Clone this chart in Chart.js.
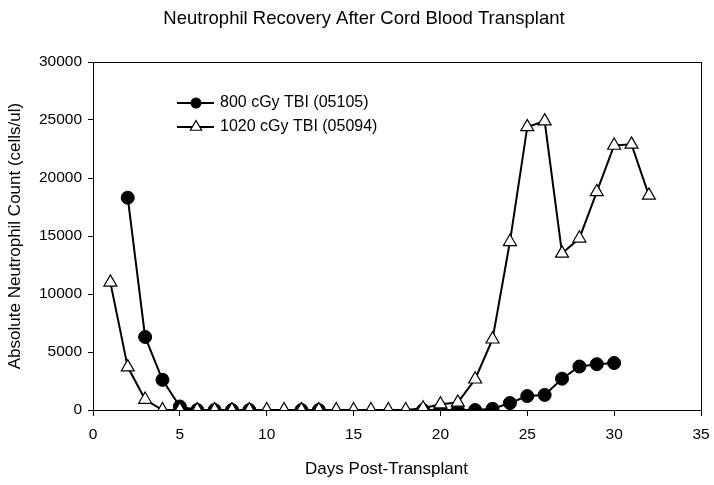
<!DOCTYPE html>
<html>
<head>
<meta charset="utf-8">
<script src="https://cdn.jsdelivr.net/npm/chart.js@4.4.1/dist/chart.umd.min.js"></script>
<style>
html,body{margin:0;padding:0;background:#fff;}
#wrap{width:714px;height:485px;position:relative;}
</style>
</head>
<body>
<div id="wrap"><canvas id="c" width="714" height="485"></canvas></div>
<script>
const chartTitle = "Neutrophil Recovery After Cord Blood Transplant";
const xTitle = "Days Post-Transplant";
const yTitle = "Absolute Neutrophil Count (cells/ul)";
const seriesNames = ["800 cGy TBI (05105)", "1020 cGy TBI (05094)"];

const days800 = [2, 3, 4, 5, 6, 7, 8, 9, 12, 13, 19, 20, 21, 22, 23, 24, 25, 26, 27, 28, 29, 30];
const anc800  = [18300, 6300, 2600, 300, 0, 0, 0, 0, 0, 0, 0, 0, 0, 0, 100, 600, 1200, 1300, 2700, 3750, 3950, 4050];

const days1020 = [1, 2, 3, 4, 5, 6, 7, 8, 9, 10, 11, 12, 13, 14, 15, 16, 17, 18, 19, 20, 21, 22, 23, 24, 25, 26, 27, 28, 29, 30, 31, 32];
const anc1020  = [11000, 3700, 900, 0, 0, 0, 0, 0, 0, 0, 0, 0, 0, 0, 0, 0, 0, 0, 150, 500, 650, 2650, 6100, 14500, 24400, 24900, 13500, 14800, 18800, 22800, 22900, 18500];

const xTicks = [0, 5, 10, 15, 20, 25, 30, 35];
const yTicks = [0, 5000, 10000, 15000, 20000, 25000, 30000];

const FONT = "'Liberation Sans', Arial, sans-serif";

const toPts = (xs, ys) => xs.map((x, i) => ({x: x, y: ys[i]}));

const titlePlugin = {
  id: 'customTitle',
  afterDraw(chart) {
    const ctx = chart.ctx;
    ctx.save();
    ctx.fillStyle = '#000';
    ctx.textAlign = 'center';
    ctx.textBaseline = 'middle';
    ctx.font = "18.5px " + FONT;
    ctx.fillText(chartTitle, 364, 19);
    ctx.font = "17px " + FONT;
    ctx.fillText(xTitle, 386.5, 469);
    ctx.restore();
  }
};

const framePlugin = {
  id: 'frame',
  afterDatasetsDraw(chart) {
    const {ctx, chartArea: a} = chart;
    ctx.save();
    ctx.strokeStyle = '#000';
    ctx.lineWidth = 1;
    ctx.strokeRect(Math.round(a.left) + 0.5, Math.round(a.top) + 0.5, Math.round(a.right - a.left), Math.round(a.bottom - a.top));
    ctx.restore();
  }
};

const legendPlugin = {
  id: 'customLegend',
  afterDraw(chart) {
    const ctx = chart.ctx;
    ctx.save();
    const rows = [
      {y: 103, style: 'circle'},
      {y: 127, style: 'triangle'}
    ];
    rows.forEach((r, i) => {
      ctx.strokeStyle = '#000';
      ctx.lineWidth = 2;
      ctx.beginPath();
      ctx.moveTo(177, r.y);
      ctx.lineTo(214, r.y);
      ctx.stroke();
      const cx = 196;
      if (r.style === 'circle') {
        ctx.fillStyle = '#000';
        ctx.beginPath();
        ctx.arc(cx, r.y, 5.5, 0, Math.PI * 2);
        ctx.fill();
      } else {
        const rad = 6.5;
        ctx.fillStyle = '#fff';
        ctx.lineWidth = 1.2;
        ctx.beginPath();
        ctx.moveTo(cx, r.y - rad);
        ctx.lineTo(cx + Math.sin(Math.PI * 2 / 3) * rad, r.y + rad / 2);
        ctx.lineTo(cx - Math.sin(Math.PI * 2 / 3) * rad, r.y + rad / 2);
        ctx.closePath();
        ctx.fill();
        ctx.stroke();
      }
      ctx.fillStyle = '#000';
      ctx.font = "16px " + FONT;
      ctx.textBaseline = 'middle';
      ctx.textAlign = 'left';
      ctx.fillText(seriesNames[i], 220, r.y);
    });
    ctx.restore();
  }
};

new Chart(document.getElementById('c'), {
  type: 'line',
  data: {
    datasets: [
      {
        label: seriesNames[0],
        data: toPts(days800, anc800),
        borderColor: '#000',
        borderWidth: 2,
        backgroundColor: '#000',
        pointBackgroundColor: '#000',
        pointBorderColor: '#000',
        pointStyle: 'circle',
        pointRadius: 6.5,
        pointBorderWidth: 1,
        tension: 0,
        order: 1
      },
      {
        label: seriesNames[1],
        data: toPts(days1020, anc1020),
        borderColor: '#000',
        borderWidth: 2,
        backgroundColor: '#fff',
        pointBackgroundColor: '#fff',
        pointBorderColor: '#000',
        pointStyle: 'triangle',
        pointRadius: 7.5,
        pointBorderWidth: 1.2,
        tension: 0,
        order: 0
      }
    ]
  },
  options: {
    responsive: false,
    animation: false,
    devicePixelRatio: 1,
    layout: {padding: {left: 5, right: 13, top: 62, bottom: 0}},
    plugins: {
      legend: {display: false},
      tooltip: {enabled: false},
      title: {display: false}
    },
    scales: {
      x: {
        type: 'linear',
        min: 0,
        max: 35,
        afterBuildTicks(s) { s.ticks = xTicks.map(v => ({value: v})); },
        afterFit(s) { s.height = 75; s.paddingRight = 0; s.paddingLeft = 0; },
        ticks: {color: '#000', font: {family: FONT, size: 15.5}, padding: 9, maxRotation: 0, callback: v => String(v)},
        grid: {display: true, drawOnChartArea: false, drawTicks: true, tickLength: 6, color: '#000', lineWidth: 1},
        border: {display: true, color: '#000', width: 1},
        title: {display: false}
      },
      y: {
        type: 'linear',
        min: 0,
        max: 30000,
        afterBuildTicks(s) { s.ticks = yTicks.map(v => ({value: v})); },
        afterFit(s) { s.width = 88; s.paddingTop = 0; s.paddingBottom = 0; },
        ticks: {color: '#000', font: {family: FONT, size: 15.5}, padding: 6, callback: v => String(v)},
        grid: {display: true, drawOnChartArea: false, drawTicks: true, tickLength: 5, color: '#000', lineWidth: 1},
        border: {display: true, color: '#000', width: 1},
        title: {display: true, text: yTitle, color: '#000', font: {family: FONT, size: 17}, padding: {top: 0, bottom: 0}}
      }
    }
  },
  plugins: [framePlugin, legendPlugin, titlePlugin]
});
</script>
</body>
</html>
